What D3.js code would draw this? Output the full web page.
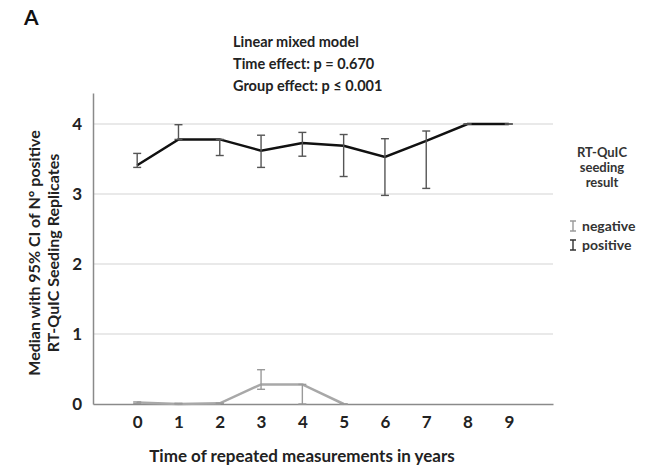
<!DOCTYPE html>
<html>
<head>
<meta charset="utf-8">
<script src="https://cdn.jsdelivr.net/npm/d3@7"></script>
<style>
  body { margin: 0; background: #fff; }
  text { font-family: Lato, "Open Sans", sans-serif; }
</style>
</head>
<body>
<div id="chart"></div>
<script>
var width = 666
var height = 470

// data
var years = [0, 1, 2, 3, 4, 5, 6, 7, 8, 9]
var posMedian = [3.41, 3.78, 3.78, 3.62, 3.73, 3.69, 3.53, 3.76, 4.0, 4.0]
var posLow    = [3.38, 3.78, 3.55, 3.38, 3.54, 3.25, 2.98, 3.08, 4.0, 4.0]
var posHigh   = [3.58, 3.99, 3.78, 3.84, 3.88, 3.85, 3.79, 3.90, 4.0, 4.0]
var negYears  = [0, 1, 2, 3, 4, 5]
var negMedian = [0.02, 0.0, 0.01, 0.28, 0.28, 0.0]
var negLow    = [0.01, 0.0, 0.01, 0.21, 0.0, 0.0]
var negHigh   = [0.03, 0.01, 0.01, 0.49, 0.28, 0.0]
var yTicks = [0, 1, 2, 3, 4]
var titleLines = ["Linear mixed model", "Time effect: p = 0.670", "Group effect: p \u2264 0.001"]
var legendTitle = ["RT-QuIC", "seeding", "result"]
var legendItems = ["negative", "positive"]

var posColor = "#111"
var posBar = "#555"
var negColor = "#a8a8a8"
var negBar = "#9a9a9a"

var svg = d3.select("#chart").append("svg")
    .attr("width", width)
    .attr("height", height)

var x = d3.scaleLinear().domain([-1.07, 10.07]).range([93, 553])
var y = d3.scaleLinear().domain([0, 4.443]).range([404, 93])

// gridlines
svg.append("g").selectAll("line").data(yTicks.filter(d => d > 0))
  .enter().append("line")
    .attr("x1", x.range()[0]).attr("x2", x.range()[1])
    .attr("y1", d => y(d)).attr("y2", d => y(d))
    .attr("stroke", "#d4d4d4").attr("stroke-width", 1.2)

// axes
var yAxis = svg.append("g")
    .attr("transform", `translate(${x.range()[0]},0)`)
    .call(d3.axisLeft(y).tickValues(yTicks).tickSize(0).tickPadding(11).tickFormat(d3.format("d")))
yAxis.select(".domain").attr("stroke", "#8a8a8a").attr("stroke-width", 1.5)
yAxis.selectAll("text").attr("font-size", 17).attr("font-weight", "bold").attr("fill", "#222")

var xAxis = svg.append("g")
    .attr("transform", `translate(0,${y(0)})`)
    .call(d3.axisBottom(x).tickValues(years).tickSize(0).tickPadding(12).tickFormat(d3.format("d")))
xAxis.select(".domain").attr("stroke", "#8a8a8a").attr("stroke-width", 1.5)
xAxis.selectAll("text").attr("font-size", 17).attr("font-weight", "bold").attr("fill", "#222")

var line = d3.line().x(d => x(d[0])).y(d => y(d[1]))

function drawSeries(xs, med, lo, hi, lineColor, barColor) {
  var g = svg.append("g")
  g.append("path")
    .datum(xs.map((d, i) => [d, med[i]]))
    .attr("d", line)
    .attr("fill", "none")
    .attr("stroke", lineColor)
    .attr("stroke-width", 2.5)
  var bars = g.selectAll(".err").data(xs.map((d, i) => ({x: d, lo: lo[i], hi: hi[i]})))
    .enter().append("g").attr("class", "err")
    .attr("stroke", barColor).attr("stroke-width", 1.4)
  bars.append("line")
    .attr("x1", d => x(d.x)).attr("x2", d => x(d.x))
    .attr("y1", d => y(d.lo)).attr("y2", d => y(d.hi))
  bars.append("line")
    .attr("x1", d => x(d.x) - 4).attr("x2", d => x(d.x) + 4)
    .attr("y1", d => y(d.lo)).attr("y2", d => y(d.lo))
  bars.append("line")
    .attr("x1", d => x(d.x) - 4).attr("x2", d => x(d.x) + 4)
    .attr("y1", d => y(d.hi)).attr("y2", d => y(d.hi))
}

drawSeries(negYears, negMedian, negLow, negHigh, negColor, negBar)
drawSeries(years, posMedian, posLow, posHigh, posColor, posBar)

// panel letter
svg.append("text").attr("x", 24).attr("y", 25)
    .attr("font-size", 21).attr("font-weight", "bold").attr("fill", "#111")
    .text("A")

// stats title
svg.append("g").selectAll("text").data(titleLines)
  .enter().append("text")
    .attr("x", 233).attr("y", (d, i) => 47 + i * 22)
    .attr("font-size", 14.5).attr("font-weight", "bold").attr("fill", "#222")
    .text(d => d)

// axis titles
svg.append("text")
    .attr("x", 302).attr("y", 462)
    .attr("text-anchor", "middle")
    .attr("font-size", 17).attr("font-weight", "bold").attr("fill", "#222")
    .text("Time of repeated measurements in years")

var yTitle = svg.append("text")
    .attr("transform", "translate(40,253) rotate(-90)")
    .attr("text-anchor", "middle")
    .attr("font-size", 16).attr("font-weight", "bold").attr("fill", "#222")
yTitle.append("tspan").attr("x", 0).attr("y", 0).text("Median with 95% CI of N\u00b0 positive")
yTitle.append("tspan").attr("x", 0).attr("y", 19).text("RT-QuIC Seeding Replicates")

// legend
svg.append("g").selectAll("text").data(legendTitle)
  .enter().append("text")
    .attr("x", 602).attr("y", (d, i) => 157 + i * 15)
    .attr("text-anchor", "middle")
    .attr("font-size", 13).attr("font-weight", "bold").attr("fill", "#333")
    .text(d => d)

var legendColors = [negBar, "#333"]
var leg = svg.append("g").selectAll("g").data(legendItems)
  .enter().append("g")
    .attr("transform", (d, i) => `translate(573,${226 + i * 19})`)
leg.append("path")
    .attr("d", "M-3,-5H3M0,-5V5M-3,5H3")
    .attr("stroke", (d, i) => legendColors[i]).attr("stroke-width", 1.4).attr("fill", "none")
leg.append("text")
    .attr("x", 9).attr("y", 5)
    .attr("font-size", 14).attr("font-weight", "bold").attr("fill", "#333")
    .text(d => d)
</script>
</body>
</html>
